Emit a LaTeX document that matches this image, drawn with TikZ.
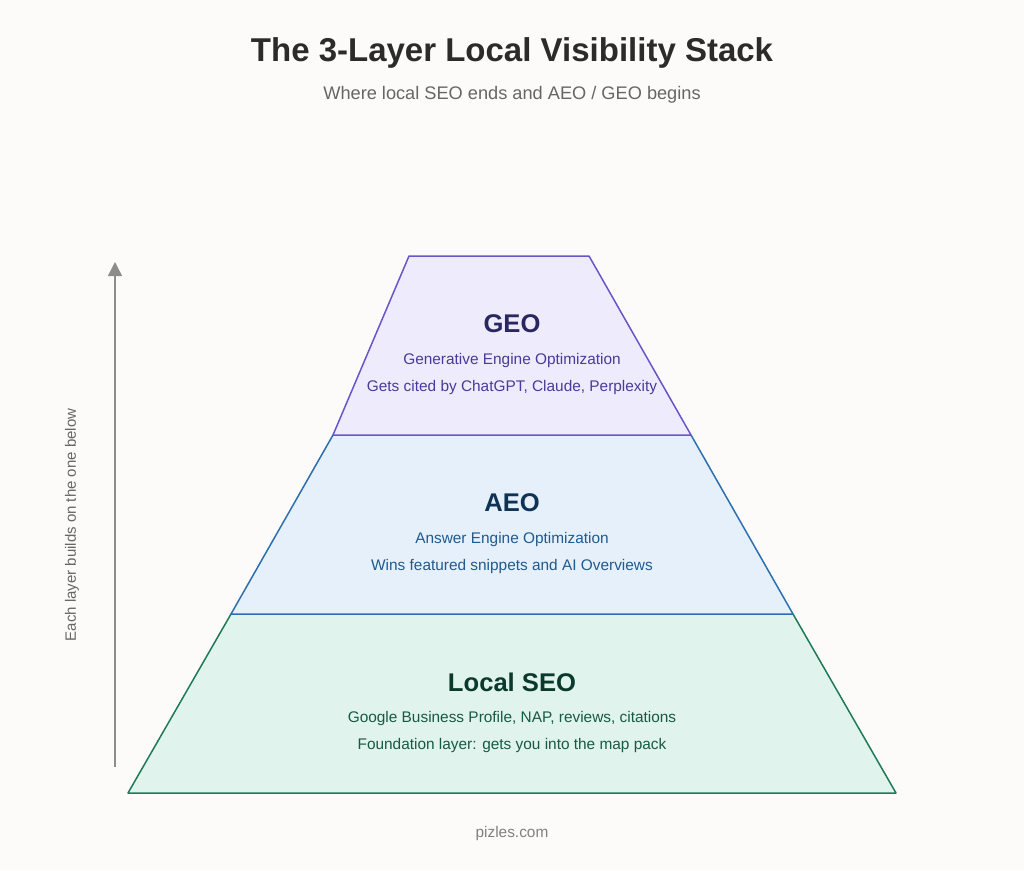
\documentclass[tikz,border=0pt]{standalone}
\usepackage{fontspec}
\setmainfont{Liberation Sans}
\usetikzlibrary{arrows.meta}
\definecolor{bgc}{HTML}{FCFBF9}
\definecolor{geofill}{HTML}{EEECFC}
\definecolor{geoline}{HTML}{6A55C8}
\definecolor{geotitle}{HTML}{2A2660}
\definecolor{geotext}{HTML}{4A3A9A}
\definecolor{aeofill}{HTML}{E6F0FA}
\definecolor{aeoline}{HTML}{2D6FB0}
\definecolor{aeotitle}{HTML}{0E3355}
\definecolor{aeotext}{HTML}{1F5A90}
\definecolor{seofill}{HTML}{E0F3EC}
\definecolor{seoline}{HTML}{1E7A5A}
\definecolor{seotitle}{HTML}{0B3A2C}
\definecolor{seotext}{HTML}{175A44}
\begin{document}
\begin{tikzpicture}[x=1pt,y=-1pt,
    layer/.style={line width=1.5pt,line join=round},
    ltitle/.style={font=\fontsize{25.6}{30}\selectfont\bfseries},
    ltext/.style={font=\fontsize{15.4}{18}\selectfont},
    every node/.style={inner sep=0pt}
]
\fill[bgc] (0,0) rectangle (1024,870);
\useasboundingbox (0,0) rectangle (1024,870);

% title
\node[font=\fontsize{33}{38}\selectfont\bfseries,text=black!83] (title) at (512,53) {The 3-Layer Local Visibility Stack};
\node[font=\fontsize{18.2}{22}\selectfont,text=black!60] (sub) at (512,95) {Where local SEO ends and AEO / GEO begins};

% layers
\draw[layer,fill=seofill,draw=seoline] (231,614) -- (793,614) -- (896,793) -- (128,793) -- cycle;
\draw[layer,fill=aeofill,draw=aeoline] (333,435) -- (691,435) -- (793,614) -- (231,614) -- cycle;
\draw[layer,fill=geofill,draw=geoline] (409,256) -- (589,256) -- (691,435) -- (333,435) -- cycle;

\node[ltitle,text=geotitle] (geo) at (512,324) {GEO};
\node[ltext,text=geotext] (geo1) at (512,361) {Generative Engine Optimization};
\node[ltext,text=geotext] (geo2) at (512,388) {Gets cited by ChatGPT, Claude, Perplexity};

\node[ltitle,text=aeotitle] (aeo) at (512,503) {AEO};
\node[ltext,text=aeotext] (aeo1) at (512,540) {Answer Engine Optimization};
\node[ltext,text=aeotext] (aeo2) at (512,567) {Wins featured snippets and AI Overviews};

\node[ltitle,text=seotitle] (seo) at (512,682) {Local SEO};
\node[ltext,text=seotext] (seo1) at (512,719) {Google Business Profile, NAP, reviews, citations};
\node[ltext,text=seotext] (seo2) at (512,746) {Foundation layer: gets you into the map pack};

% side arrow
\coordinate (abot) at (115,767);
\coordinate (atop) at (115,262);
\draw[line width=1.5pt,draw=black!45,-{Triangle[length=14pt,width=14pt]}] (abot) -- (atop);
\node[font=\fontsize{15}{18}\selectfont,text=black!60,rotate=90] (side) at (72,525) {Each layer builds on the one below};

\node[font=\fontsize{15.4}{18}\selectfont,text=black!50] (foot) at (512,834) {pizles.com};
\end{tikzpicture}
\end{document}
